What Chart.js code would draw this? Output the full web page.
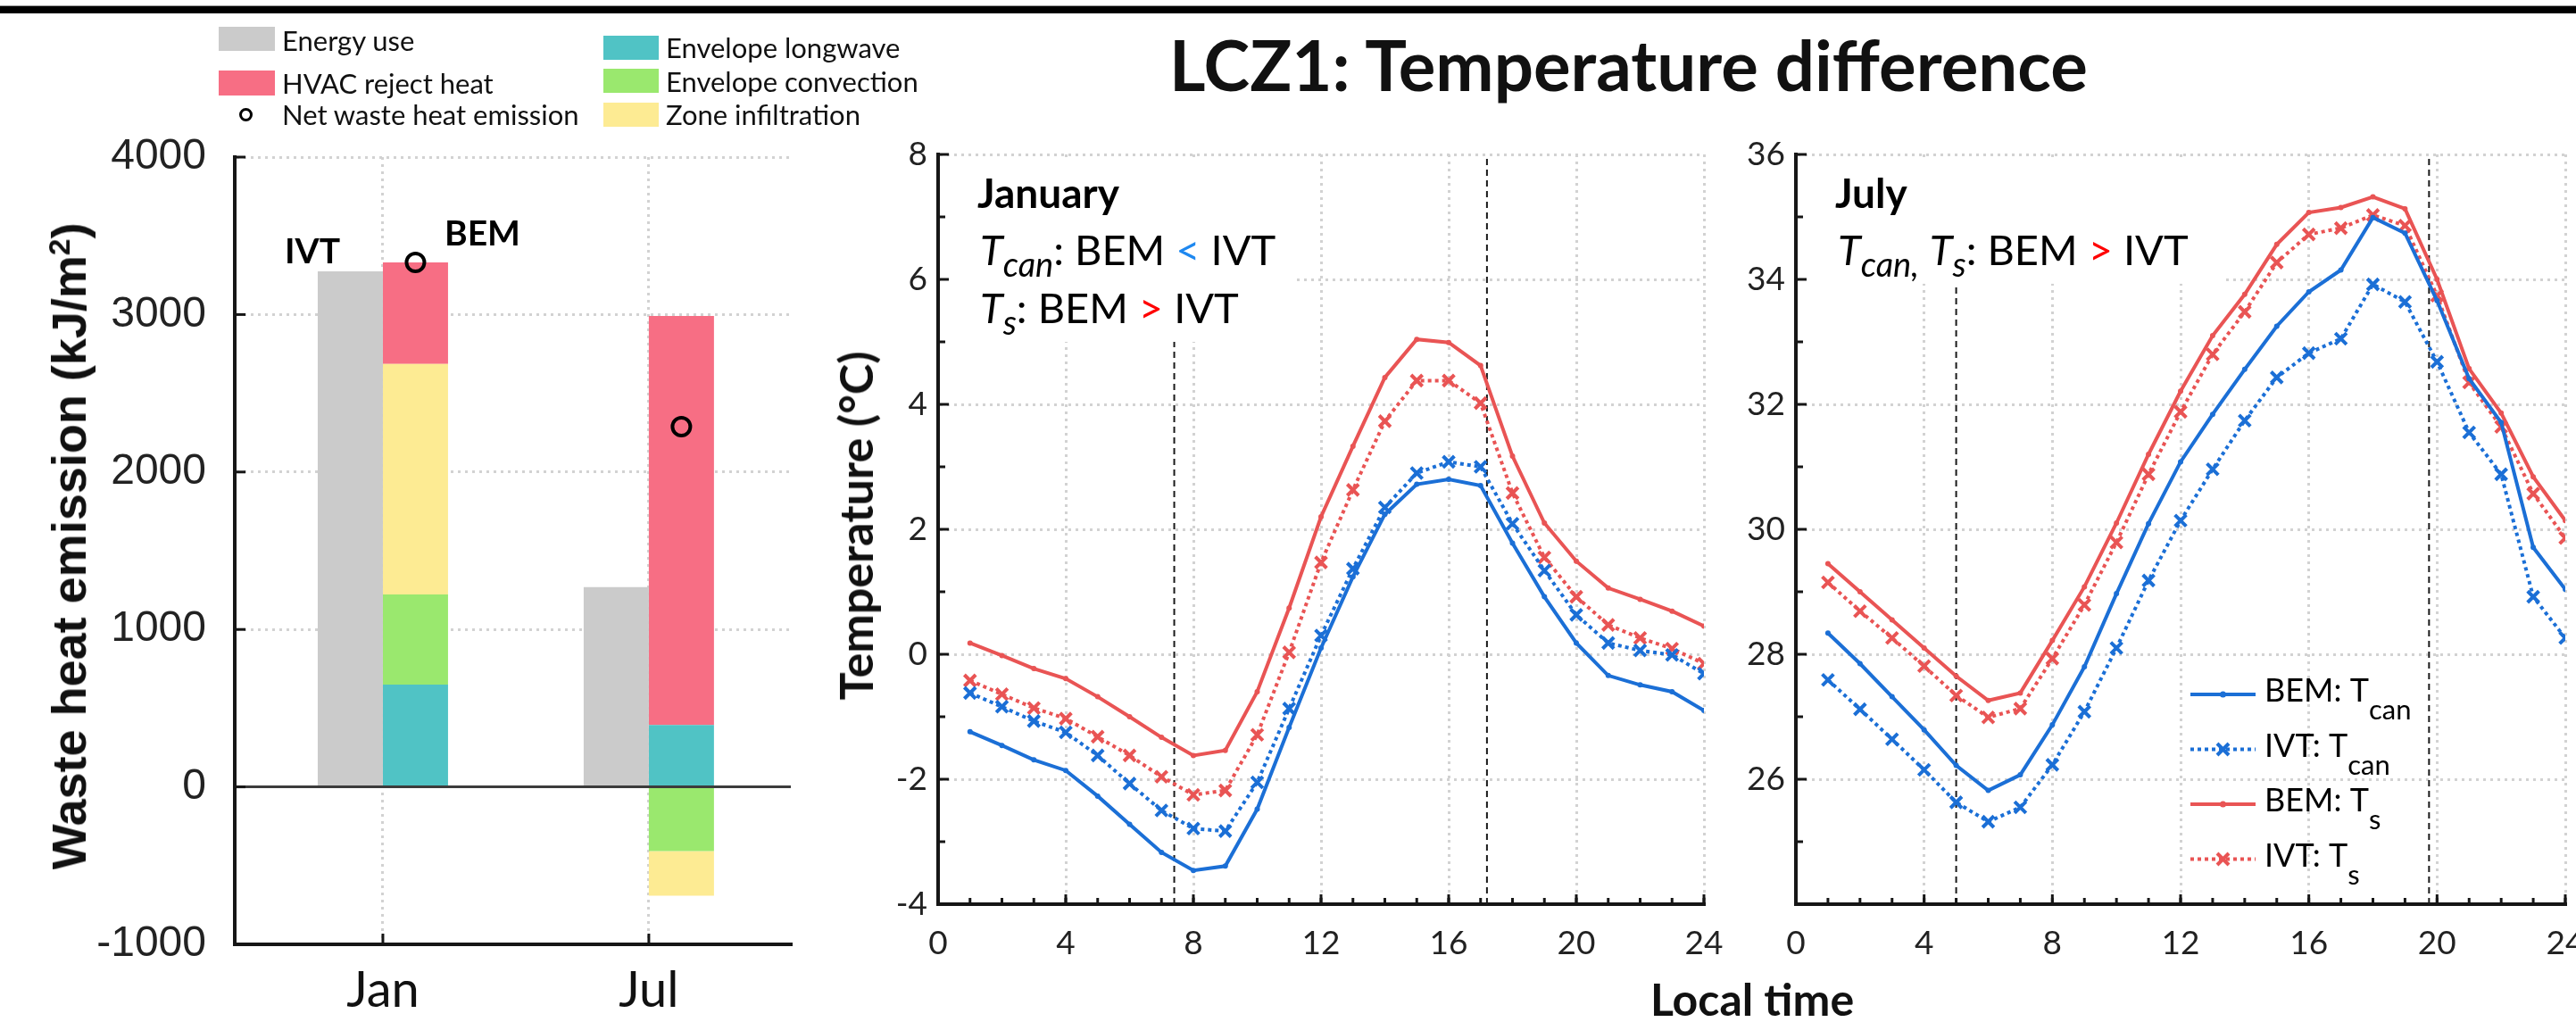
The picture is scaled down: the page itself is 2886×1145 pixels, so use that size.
<!DOCTYPE html>
<html>
<head>
<meta charset="utf-8">
<script src="https://cdn.jsdelivr.net/npm/chart.js@4.4.1/dist/chart.umd.min.js"></script>
<style>
html,body{margin:0;padding:0;background:#fff;}
#wrap{position:relative;width:2886px;height:1145px;overflow:hidden;background:#fff;}
#wrap canvas{position:absolute;left:0;top:0;}
.t{position:absolute;white-space:nowrap;line-height:1;color:#111;font-family:Lato,sans-serif;}
.box{position:absolute;}
</style>
</head>
<body>
<div id="wrap">
  <div class="box" style="left:0;top:6px;width:2886px;height:8px;background:#000;border-top:1px solid #999;"></div>
  <canvas id="cBar" width="2886" height="1145"></canvas>
  <canvas id="cJan" width="2886" height="1145"></canvas>
  <canvas id="cJul" width="2886" height="1145"></canvas>

  <div class="t" style="left:1310px;top:33px;font-size:78px;font-weight:700;">LCZ1: Temperature difference</div>

  <!-- left legend -->
  <div class="box" style="left:245px;top:30px;width:63px;height:27px;background:#cbcbcb;"></div>
  <div class="t" style="left:316px;top:30px;font-size:31px;">Energy use</div>
  <div class="box" style="left:245px;top:79px;width:63px;height:28px;background:#f76e84;"></div>
  <div class="t" style="left:316px;top:78px;font-size:31px;">HVAC reject heat</div>
  <div class="box" style="left:268px;top:121px;width:9px;height:9px;border:3.5px solid #000;border-radius:50%;"></div>
  <div class="t" style="left:316px;top:113px;font-size:31px;">Net waste heat emission</div>
  <div class="box" style="left:676px;top:40px;width:62px;height:27px;background:#50c3c5;"></div>
  <div class="t" style="left:746px;top:38px;font-size:31px;">Envelope longwave</div>
  <div class="box" style="left:676px;top:77px;width:62px;height:27px;background:#9ae86e;"></div>
  <div class="t" style="left:746px;top:76px;font-size:31px;">Envelope convection</div>
  <div class="box" style="left:676px;top:115px;width:62px;height:27px;background:#fdeb93;"></div>
  <div class="t" style="left:746px;top:113px;font-size:31px;">Zone infiltration</div>

  <!-- axis titles -->
  <div class="t" style="left:77px;top:612px;transform:translate(-50%,-50%) rotate(-90deg);font-family:'Liberation Sans',Arial,sans-serif;font-weight:700;font-size:54px;">Waste heat emission (kJ/m<span style="font-size:0.62em;position:relative;top:-0.55em;">2</span>)</div>
  <div class="t" style="left:958px;top:589px;transform:translate(-50%,-50%) rotate(-90deg);font-weight:700;font-size:52px;">Temperature (°C)</div>
  <div class="t" style="left:1963px;top:1094px;transform:translateX(-50%);font-weight:700;font-size:50px;">Local time</div>
</div>

<script>
// ---------------- data ----------------
const months = ['Jan', 'Jul'];
const monthPos = [1, 2];
const energyUse = [3275, 1269];          // IVT
const envLongwave = [649, 393];          // BEM
const envConvection = [573, -408];
const zoneInfiltration = [1464, -283];
const hvacReject = [645, 2598];
const netEmission = [3331, 2288];
const barYTicks = [-1000, 0, 1000, 2000, 3000, 4000];

const hours = [1,2,3,4,5,6,7,8,9,10,11,12,13,14,15,16,17,18,19,20,21,22,23,24];
const tempXTicks = [0, 4, 8, 12, 16, 20, 24];

const janBemTcan = [-1.24,-1.46,-1.69,-1.86,-2.27,-2.72,-3.17,-3.46,-3.39,-2.48,-1.17,0.10,1.24,2.24,2.72,2.80,2.70,1.78,0.92,0.18,-0.34,-0.49,-0.60,-0.90];
const janIvtTcan = [-0.62,-0.84,-1.07,-1.25,-1.62,-2.07,-2.50,-2.79,-2.83,-2.05,-0.87,0.30,1.37,2.35,2.90,3.08,3.00,2.09,1.34,0.63,0.18,0.06,-0.01,-0.31];
const janBemTs   = [0.18,-0.02,-0.23,-0.39,-0.68,-1.00,-1.33,-1.62,-1.54,-0.60,0.74,2.20,3.33,4.43,5.04,4.99,4.62,3.17,2.10,1.49,1.06,0.88,0.69,0.45];
const janIvtTs   = [-0.42,-0.64,-0.86,-1.03,-1.32,-1.62,-1.96,-2.25,-2.18,-1.29,0.03,1.47,2.63,3.73,4.38,4.38,4.02,2.58,1.55,0.92,0.47,0.26,0.09,-0.15];

const julBemTcan = [28.34,27.85,27.32,26.79,26.22,25.82,26.07,26.87,27.80,28.97,30.09,31.08,31.84,32.56,33.25,33.80,34.15,34.99,34.74,33.66,32.41,31.71,29.71,29.04];
const julIvtTcan = [27.59,27.12,26.64,26.15,25.63,25.32,25.55,26.23,27.08,28.10,29.18,30.14,30.96,31.74,32.43,32.82,33.05,33.92,33.64,32.68,31.55,30.88,28.92,28.26];
const julBemTs   = [29.45,29.00,28.55,28.10,27.65,27.26,27.38,28.22,29.08,30.10,31.20,32.21,33.10,33.76,34.56,35.07,35.15,35.32,35.13,34.00,32.57,31.86,30.84,30.14];
const julIvtTs   = [29.15,28.69,28.26,27.81,27.34,26.99,27.13,27.93,28.79,29.79,30.88,31.88,32.80,33.48,34.27,34.72,34.82,35.03,34.86,33.74,32.35,31.64,30.57,29.86];

const janSunTimes = [7.4, 17.2];
const julSunTimes = [5.0, 19.75];
const janYTicks = [-4, -2, 0, 2, 4, 6, 8];
const julYTicks = [24, 26, 28, 30, 32, 34, 36];

// ---------------- styles ----------------
const W = 2886, H = 1145;
const GRID = '#d2d2d2', AXIS = '#161616';
const BLUE = '#1b6fd6', RED = '#e95454';
const CAT_PCT = 0.49;
Chart.defaults.font.family = 'Lato';
Chart.defaults.color = '#222';

function strokeLine(ctx, x1, y1, x2, y2) { ctx.beginPath(); ctx.moveTo(x1, y1); ctx.lineTo(x2, y2); ctx.stroke(); }

function drawInnerTicks(chart, spec) {
  const {ctx, chartArea: a, scales: {x, y}} = chart;
  ctx.save();
  ctx.strokeStyle = AXIS; ctx.lineWidth = 3; ctx.setLineDash([]);
  spec.y.forEach(([vals, len]) => vals.forEach(v => { const p = y.getPixelForValue(v); strokeLine(ctx, a.left, p, a.left + len, p); }));
  spec.x.forEach(([vals, len]) => vals.forEach(v => { const p = x.getPixelForValue(v); strokeLine(ctx, p, a.bottom, p, a.bottom - len); }));
  ctx.restore();
}

function drawRuns(ctx, x, base, runs) {
  runs.forEach(r => {
    ctx.font = r.font; ctx.fillStyle = r.color || '#000';
    ctx.fillText(r.t, x, base + (r.dy || 0));
    x += ctx.measureText(r.t).width;
  });
}

// ---------------- bar chart ----------------
const barArea = {left: 263, right: 886, top: 176, bottom: 1058};
const barDecor = {
  id: 'barDecor',
  beforeDatasetsDraw(chart) {
    const {ctx, chartArea: a, scales: {y}} = chart;
    ctx.save();
    ctx.strokeStyle = '#3c3c3c'; ctx.lineWidth = 3;
    const p0 = y.getPixelForValue(0);
    strokeLine(ctx, a.left, p0, a.right, p0);
    ctx.restore();
  },
  afterDatasetsDraw(chart) {
    const {ctx} = chart;
    drawInnerTicks(chart, {y: [[barYTicks, 12]], x: [[monthPos, 12]]});
    ctx.save();
    ctx.fillStyle = '#000'; ctx.font = 'bold 39px Lato';
    ctx.fillText('IVT', 319, 295);
    ctx.fillText('BEM', 498, 275);
    ctx.restore();
  }
};

function barSet(label, vals, color, stack) {
  return {type: 'bar', label, stack, backgroundColor: color, borderWidth: 0,
    data: monthPos.map((m, i) => ({x: m, y: vals[i]})),
    categoryPercentage: CAT_PCT, barPercentage: 1};
}

new Chart(document.getElementById('cBar'), {
  type: 'bar',
  data: {
    datasets: [
      {type: 'scatter', label: 'Net waste heat emission', stack: 'net',
        data: monthPos.map((m, i) => ({x: m + CAT_PCT / 4, y: netEmission[i]})),
        pointStyle: 'circle', pointRadius: 10, pointBorderWidth: 4,
        pointBorderColor: '#000', pointBackgroundColor: 'rgba(0,0,0,0)', borderColor: '#000'},
      barSet('Energy use', energyUse, '#cbcbcb', 'IVT'),
      barSet('Envelope longwave', envLongwave, '#50c3c5', 'BEM'),
      barSet('Envelope convection', envConvection, '#9ae86e', 'BEM'),
      barSet('Zone infiltration', zoneInfiltration, '#fdeb93', 'BEM'),
      barSet('HVAC reject heat', hvacReject, '#f76e84', 'BEM'),
    ]
  },
  options: {
    responsive: false, animation: false, devicePixelRatio: 1,
    layout: {autoPadding: false, padding: {left: barArea.left - 200, right: W - barArea.right, top: barArea.top, bottom: 0}},
    plugins: {legend: {display: false}, tooltip: {enabled: false}},
    scales: {
      x: {
        type: 'linear', stacked: true, offset: false, min: 0.443, max: 2.534,
        afterBuildTicks: s => { s.ticks = monthPos.map(v => ({value: v})); },
        afterFit: s => { s.height = H - barArea.bottom; s.paddingLeft = 0; s.paddingRight = 0; },
        grid: {color: GRID, lineWidth: 3, drawTicks: false, offset: false},
        border: {display: true, color: AXIS, width: 4, dash: [3, 5]},
        ticks: {font: {family: 'Lato', size: 56}, color: '#111', padding: 18, maxRotation: 0, autoSkip: false,
          callback: v => months[monthPos.indexOf(v)] || ''}
      },
      y: {
        stacked: true, min: -1000, max: 4000,
        afterBuildTicks: s => { s.ticks = barYTicks.map(v => ({value: v})); },
        afterFit: s => { s.width = 200; s.paddingTop = 0; s.paddingBottom = 0; },
        grid: {color: c => (c.tick && c.tick.value === 0) ? 'rgba(0,0,0,0)' : GRID, lineWidth: 3, drawTicks: false},
        border: {display: true, color: AXIS, width: 4, dash: [3, 5]},
        ticks: {font: {family: 'Liberation Sans', size: 48}, color: '#222', padding: 32, callback: v => String(v)}
      }
    }
  },
  plugins: [barDecor]
});

// ---------------- temperature charts ----------------
function lineSet(label, vals, color, ivt) {
  return {
    label, data: hours.map((h, i) => ({x: h, y: vals[i]})),
    borderColor: color, backgroundColor: color, borderWidth: 4,
    borderDash: ivt ? [4, 4] : [],
    pointStyle: ivt ? 'crossRot' : 'circle',
    pointRadius: ivt ? 9 : 3, pointBorderWidth: ivt ? 4 : 0,
    pointBackgroundColor: color, pointBorderColor: color,
    tension: 0, fill: false
  };
}

const legendRows = [
  {name: 'BEM: T', sub: 'can', color: BLUE, ivt: false},
  {name: 'IVT: T', sub: 'can', color: BLUE, ivt: true},
  {name: 'BEM: T', sub: 's', color: RED, ivt: false},
  {name: 'IVT: T', sub: 's', color: RED, ivt: true},
];

function tempDecor(cfg) {
  return {
    id: 'tempDecor',
    beforeDatasetsDraw(chart) {
      const {ctx, chartArea: a, scales: {x, y}} = chart;
      ctx.save();
      ctx.strokeStyle = '#1a1a1a'; ctx.lineWidth = 2; ctx.setLineDash([7, 5]);
      cfg.sun.forEach(h => { const p = x.getPixelForValue(h); strokeLine(ctx, p, a.bottom, p, a.top); });
      ctx.setLineDash([]);
      const bx2 = x.getPixelForValue(cfg.box[0]), by2 = y.getPixelForValue(cfg.box[1]);
      ctx.fillStyle = '#fff';
      ctx.fillRect(a.left + 3, a.top + 4, bx2 - a.left - 3, by2 - a.top - 4);
      ctx.textBaseline = 'alphabetic';
      ctx.fillStyle = '#000'; ctx.font = 'bold 46px Lato';
      ctx.fillText(cfg.month, a.left + 44, a.top + 60);
      cfg.lines.forEach((runs, i) => drawRuns(ctx, a.left + 47, a.top + 124 + i * 65, runs));
      ctx.restore();
      const ys = [];
      for (let v = y.min; v <= y.max; v += 1) ys.push(v);
      const xs = [];
      for (let v = x.min; v <= x.max; v += 1) xs.push(v);
      drawInnerTicks(chart, {
        y: [[ys.filter(v => (v - y.min) % 2 === 0), 12], [ys.filter(v => (v - y.min) % 2 !== 0), 8]],
        x: [[xs, 7], [xs.filter(v => v % 4 === 0), 11]]
      });
    },
    afterDatasetsDraw(chart) {
      if (!cfg.legend) return;
      const {ctx} = chart;
      ctx.save();
      legendRows.forEach((r, i) => {
        const ly = 778 + i * 61.5, x0 = 2454, x1 = 2527, xm = (x0 + x1) / 2;
        ctx.strokeStyle = r.color; ctx.fillStyle = r.color; ctx.lineWidth = 4;
        ctx.setLineDash(r.ivt ? [4, 4] : []);
        strokeLine(ctx, x0, ly, x1, ly);
        ctx.setLineDash([]);
        if (r.ivt) {
          const d = 6.5;
          strokeLine(ctx, xm - d, ly - d, xm + d, ly + d);
          strokeLine(ctx, xm - d, ly + d, xm + d, ly - d);
        } else {
          ctx.beginPath(); ctx.arc(xm, ly, 3.5, 0, Math.PI * 2); ctx.fill();
        }
        drawRuns(ctx, 2537, ly + 8, [
          {t: r.name, font: '36px Lato', color: '#000'},
          {t: r.sub, font: '31px Lato', color: '#000', dy: 20}
        ]);
      });
      ctx.restore();
    }
  };
}

const F = '47px Lato', FI = 'italic 47px Lato', FS = 'italic 38px Lato';

function makeTempChart(id, area, ticks, hideLabels, sets, decor) {
  return new Chart(document.getElementById(id), {
    type: 'line',
    data: {datasets: sets},
    options: {
      responsive: false, animation: false, devicePixelRatio: 1,
      layout: {autoPadding: false, padding: {left: area.left - 150, right: W - area.right, top: area.top, bottom: 0}},
      plugins: {legend: {display: false}, tooltip: {enabled: false}},
      scales: {
        x: {
          type: 'linear', min: 0, max: 24, offset: false,
          afterBuildTicks: s => { s.ticks = tempXTicks.map(v => ({value: v})); },
          afterFit: s => { s.height = H - area.bottom; s.paddingLeft = 0; s.paddingRight = 0; },
          grid: {color: GRID, lineWidth: 3, drawTicks: false, offset: false},
          border: {display: true, color: AXIS, width: 4, dash: [3, 5]},
          ticks: {font: {family: 'Lato', size: 37}, color: '#222', padding: 22, maxRotation: 0, autoSkip: false,
            callback: v => String(v)}
        },
        y: {
          type: 'linear', min: ticks[0], max: ticks[ticks.length - 1],
          afterBuildTicks: s => { s.ticks = ticks.map(v => ({value: v})); },
          afterFit: s => { s.width = 150; s.paddingTop = 0; s.paddingBottom = 0; },
          grid: {color: GRID, lineWidth: 3, drawTicks: false},
          border: {display: true, color: AXIS, width: 4, dash: [3, 5]},
          ticks: {font: {family: 'Lato', size: 37}, color: '#222', padding: 12,
            callback: v => hideLabels.includes(v) ? '' : String(v)}
        }
      }
    },
    plugins: [decor]
  });
}

makeTempChart('cJan', {left: 1051, right: 1909, top: 173, bottom: 1013}, janYTicks, [], [
  lineSet('BEM: Tcan', janBemTcan, BLUE, false),
  lineSet('IVT: Tcan', janIvtTcan, BLUE, true),
  lineSet('BEM: Ts', janBemTs, RED, false),
  lineSet('IVT: Ts', janIvtTs, RED, true),
], tempDecor({
  sun: janSunTimes, box: [11.2, 5.0], month: 'January', legend: false,
  lines: [
    [{t: 'T', font: FI}, {t: 'can', font: FS, dy: 13}, {t: ': BEM ', font: F}, {t: '<', font: F, color: '#1e88f0'}, {t: ' IVT', font: F}],
    [{t: 'T', font: FI}, {t: 's', font: FS, dy: 13}, {t: ': BEM ', font: F}, {t: '>', font: F, color: '#ff0000'}, {t: ' IVT', font: F}],
  ]
}));

makeTempChart('cJul', {left: 2012, right: 2874, top: 173, bottom: 1013}, julYTicks, [24], [
  lineSet('BEM: Tcan', julBemTcan, BLUE, false),
  lineSet('IVT: Tcan', julIvtTcan, BLUE, true),
  lineSet('BEM: Ts', julBemTs, RED, false),
  lineSet('IVT: Ts', julIvtTs, RED, true),
], tempDecor({
  sun: julSunTimes, box: [13.3, 33.93], month: 'July', legend: true,
  lines: [
    [{t: 'T', font: FI}, {t: 'can,', font: FS, dy: 13}, {t: ' ', font: F}, {t: 'T', font: FI}, {t: 's', font: FS, dy: 13},
     {t: ': BEM ', font: F}, {t: '>', font: F, color: '#ff0000'}, {t: ' IVT', font: F}],
  ]
}));
</script>
</body>
</html>
